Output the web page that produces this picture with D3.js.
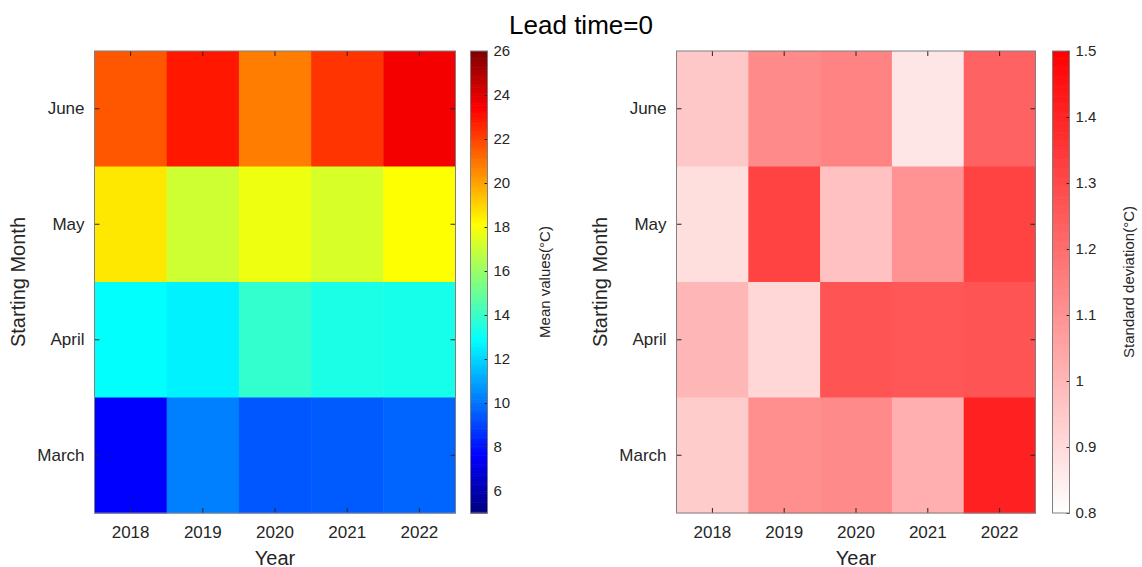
<!DOCTYPE html>
<html>
<head>
<meta charset="utf-8">
<script src="https://cdn.jsdelivr.net/npm/d3@7"></script>
<style>
  body { margin: 0; background: #fff; }
  svg { font-family: "Liberation Sans", Arial, sans-serif; }
</style>
</head>
<body>
<svg id="chart" width="1142" height="567"></svg>
<script>
// data
var years = ["2018", "2019", "2020", "2021", "2022"];
var months = ["June", "May", "April", "March"];

// mean values, rows follow months
var meanJune  = [21.6, 22.9, 20.8, 22.3, 23.6];
var meanMay   = [18.6, 17.1, 17.8, 17.3, 18.1];
var meanApril = [12.9, 12.6, 13.9, 13.4, 13.3];
var meanMarch = [7.6, 10.25, 9.4, 9.5, 9.7];

// standard deviations
var stdJune  = [0.95, 1.12, 1.14, 0.87, 1.23];
var stdMay   = [0.89, 1.32, 0.97, 1.10, 1.32];
var stdApril = [1.00, 0.91, 1.27, 1.26, 1.27];
var stdMarch = [0.94, 1.11, 1.12, 1.02, 1.41];

var meanTicks = [6, 8, 10, 12, 14, 16, 18, 20, 22, 24, 26];
var stdTicks = [0.8, 0.9, 1.0, 1.1, 1.2, 1.3, 1.4, 1.5];

var meanRows = [meanJune, meanMay, meanApril, meanMarch];
var stdRows = [stdJune, stdMay, stdApril, stdMarch];

var svg = d3.select("#chart");
var plotTop = 51, plotBottom = 513;
var textColor = "#262626";
var boxColor = "#808080";

// matlab jet colormap
function jet(t) {
    t = Math.max(0, Math.min(1, t));
    function ch(x) {
        return Math.max(0, Math.min(1, 1.5 - Math.abs(4 * t - x)));
    }
    var r = ch(3), g = ch(2), b = ch(1);
    return d3.rgb(r * 255, g * 255, b * 255).toString();
}

function cells(rows) {
    var out = [];
    rows.forEach(function(r, i) {
        r.forEach(function(v, j) {
            out.push({month: months[i], year: years[j], value: v});
        });
    });
    return out;
}

function heatmap(opt) {
    var g = svg.append("g");
    var x = d3.scaleBand().domain(years).range([opt.left, opt.right]);
    var y = d3.scaleBand().domain(months).range([plotTop, plotBottom]);

    g.selectAll("rect.cell")
        .data(cells(opt.rows))
        .enter()
        .append("rect")
        .attr("class", "cell")
        .attr("x", function(d) { return x(d.year); })
        .attr("y", function(d) { return y(d.month); })
        .attr("width", x.bandwidth() + 0.5)
        .attr("height", y.bandwidth() + 0.5)
        .attr("fill", function(d) { return opt.color(d.value); });

    // axes, ticks pointing inward
    var xb = g.append("g").attr("transform", "translate(0," + plotBottom + ")")
        .call(d3.axisBottom(x).tickSize(-5).tickPadding(13));
    var xt = g.append("g").attr("transform", "translate(0," + plotTop + ")")
        .call(d3.axisTop(x).tickSize(-5).tickFormat(""));
    var yl = g.append("g").attr("transform", "translate(" + opt.left + ",0)")
        .call(d3.axisLeft(y).tickSize(-5).tickPadding(10));
    var yr = g.append("g").attr("transform", "translate(" + opt.right + ",0)")
        .call(d3.axisRight(y).tickSize(-5).tickFormat(""));
    [xb, xt, yl, yr].forEach(function(a) {
        a.select(".domain").remove();
        a.selectAll("line").attr("stroke", textColor);
        a.selectAll("text").attr("fill", textColor).style("font-size", "17px");
    });

    g.append("rect")
        .attr("x", opt.left).attr("y", plotTop)
        .attr("width", opt.right - opt.left).attr("height", plotBottom - plotTop)
        .attr("fill", "none").attr("stroke", boxColor);

    g.append("text")
        .attr("x", (opt.left + opt.right) / 2).attr("y", 565)
        .attr("text-anchor", "middle").attr("fill", textColor)
        .style("font-size", "20px").text("Year");
    g.append("text")
        .attr("transform", "translate(" + (opt.left - 70) + "," + ((plotTop + plotBottom) / 2) + ") rotate(-90)")
        .attr("text-anchor", "middle").attr("fill", textColor)
        .style("font-size", "20px").text("Starting Month");

    // colorbar
    var cb = svg.append("g");
    var cs = d3.scaleLinear().domain(opt.domain).range([plotBottom, plotTop]);
    var n = 256;
    var steps = d3.range(n).map(function(i) {
        return opt.domain[0] + (opt.domain[1] - opt.domain[0]) * i / n;
    });
    var h = (plotBottom - plotTop) / n;
    cb.selectAll("rect")
        .data(steps)
        .enter()
        .append("rect")
        .attr("x", opt.cbLeft)
        .attr("y", function(d) { return cs(d) - h; })
        .attr("width", opt.cbWidth)
        .attr("height", h + 0.6)
        .attr("fill", function(d) { return opt.color(d + (opt.domain[1] - opt.domain[0]) / n / 2); });
    var ca = cb.append("g").attr("transform", "translate(" + (opt.cbLeft + opt.cbWidth) + ",0)")
        .call(d3.axisRight(cs).tickValues(opt.ticks).tickSize(-3).tickPadding(6)
            .tickFormat(d3.format("~g")));
    ca.select(".domain").remove();
    ca.selectAll("line").attr("stroke", textColor);
    ca.selectAll("text").attr("fill", textColor).style("font-size", "15px");
    cb.append("rect")
        .attr("x", opt.cbLeft).attr("y", plotTop)
        .attr("width", opt.cbWidth).attr("height", plotBottom - plotTop)
        .attr("fill", "none").attr("stroke", boxColor);
    cb.append("text")
        .attr("transform", "translate(" + opt.labelX + "," + ((plotTop + plotBottom) / 2) + ") rotate(-90)")
        .attr("text-anchor", "middle").attr("fill", textColor)
        .style("font-size", "15px").text(opt.label);
}

var meanColor = function(v) { return jet((v - 5) / 21); };
var stdColor = d3.scaleLinear().domain([0.8, 1.5]).range(["#ffffff", "#ff0000"]).clamp(true);

heatmap({left: 94.5, right: 455.5, rows: meanRows, color: meanColor,
    domain: [5, 26], ticks: meanTicks, cbLeft: 470.5, cbWidth: 17,
    labelX: 550, label: "Mean values(°C)"});
heatmap({left: 676.5, right: 1035.5, rows: stdRows, color: stdColor,
    domain: [0.8, 1.5], ticks: stdTicks, cbLeft: 1052.5, cbWidth: 17,
    labelX: 1134, label: "Standard deviation(°C)"});

svg.append("text")
    .attr("x", 581).attr("y", 34)
    .attr("text-anchor", "middle").attr("fill", "#000")
    .style("font-size", "26px").text("Lead time=0");
</script>
</body>
</html>
